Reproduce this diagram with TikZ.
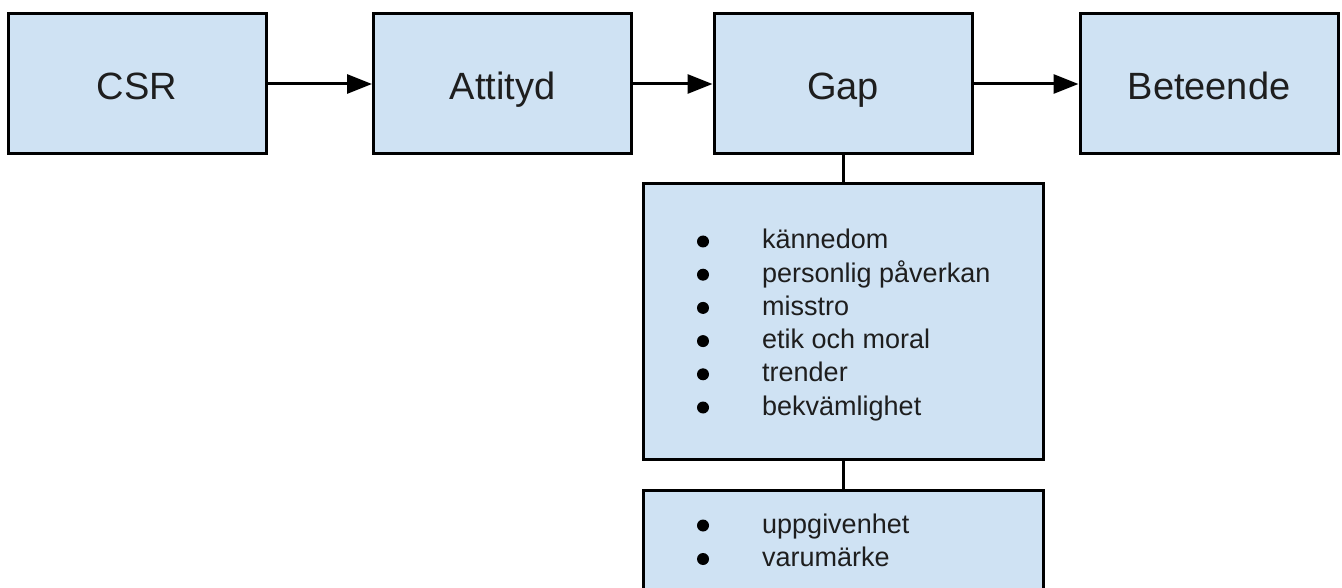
\documentclass[tikz,border=0pt]{standalone}
\usepackage{fontspec}
\setmainfont{Liberation Sans}
\usetikzlibrary{arrows.meta,positioning}
\definecolor{boxfill}{HTML}{CFE2F3}
\definecolor{ink}{HTML}{1E1E1E}

\begin{document}
\begin{tikzpicture}[x=1pt,y=-1pt,
  box/.style={draw=black,fill=boxfill,line width=3pt,inner sep=0pt,
              minimum width=258pt,minimum height=140pt,text=ink,
              text height=38pt,text depth=6pt,font=\fontsize{38}{44}\selectfont},
  listbox/.style={draw=black,fill=boxfill,line width=3pt,minimum width=400pt,inner sep=0pt},
  flow/.style={line width=3pt,-{Triangle[length=25pt,width=19pt]}},
  link/.style={line width=3pt},
  item/.style={anchor=base west,inner sep=0pt,text=ink,font=\fontsize{27}{31}\selectfont}]
  \useasboundingbox (0,0) rectangle (1342,588);
  \clip (0,0) rectangle (1342,588);
  % main chain
  \node[box] (csr)      at (137,84)   {CSR};
  \node[box] (attityd)  at (502.5,84) {Attityd};
  \node[box] (gap)      at (843,84)   {Gap};
  \node[box] (beteende) at (1209,84)  {Beteende};
  \draw[flow] (csr) -- (attityd);
  \draw[flow] (attityd) -- (gap);
  \draw[flow] (gap) -- (beteende);
  % boxes below the gap
  \node[listbox,minimum height=275pt] (hinder1) at (843,321.5) {};
  \node[listbox,minimum height=130pt] (hinder2) at (843,555) {};
  \draw[link] (gap) -- (hinder1);
  \draw[link] (hinder1) -- (hinder2);
  % bullet lists
  \foreach \t [count=\i from 0] in {kännedom,personlig påverkan,misstro,
                                    etik och moral,trender,bekvämlighet}{
    \fill[black] (703,241.5+33.2*\i) circle (6pt);
    \node[item] (first\i) at (762,249+33.2*\i) {\t};}
  \foreach \t [count=\i from 0] in {uppgivenhet,varumärke}{
    \fill[black] (703,525.5+33.5*\i) circle (6pt);
    \node[item] (second\i) at (762,533+33.5*\i) {\t};}
\end{tikzpicture}
\end{document}
